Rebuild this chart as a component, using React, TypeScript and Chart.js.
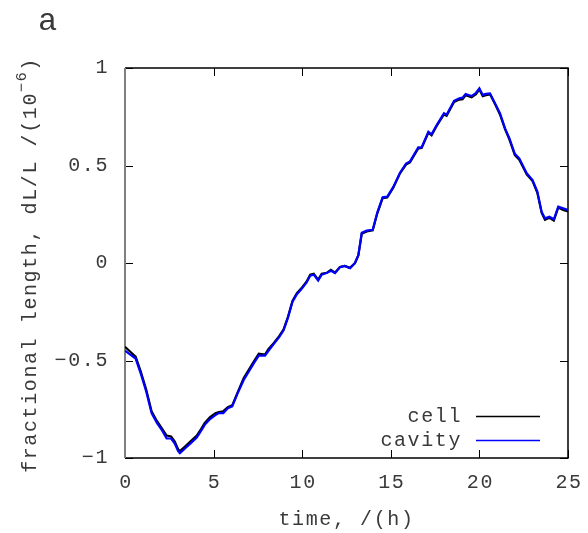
import React, { useEffect, useRef } from "react";
import { Chart, registerables } from "chart.js";

Chart.register(...registerables);

const times = [0.0, 0.3, 0.6, 0.9, 1.2, 1.5, 1.8, 2.1, 2.35, 2.6, 2.8, 3.0, 3.1, 3.4, 3.7, 4.05, 4.3, 4.5, 4.8, 5.1, 5.3, 5.55, 5.8, 6.05, 6.35, 6.7, 7.0, 7.3, 7.55, 7.9, 8.1, 8.4, 8.7, 8.95, 9.2, 9.45, 9.7, 9.95, 10.25, 10.45, 10.65, 10.9, 11.1, 11.4, 11.62, 11.85, 12.13, 12.4, 12.7, 12.98, 13.17, 13.36, 13.64, 13.98, 14.24, 14.54, 14.8, 15.14, 15.52, 15.86, 16.08, 16.55, 16.74, 17.12, 17.3, 17.59, 18.0, 18.15, 18.57, 18.87, 19.05, 19.22, 19.56, 19.81, 20.0, 20.19, 20.37, 20.6, 20.88, 21.16, 21.45, 21.69, 22.0, 22.25, 22.67, 23.0, 23.27, 23.51, 23.7, 23.95, 24.2, 24.45, 24.73, 25.0];

const cavity = [-0.45, -0.47, -0.49, -0.57, -0.66, -0.77, -0.82, -0.86, -0.9, -0.9, -0.925, -0.965, -0.975, -0.95, -0.925, -0.895, -0.86, -0.83, -0.8, -0.78, -0.77, -0.77, -0.745, -0.735, -0.67, -0.6, -0.555, -0.51, -0.475, -0.475, -0.45, -0.415, -0.38, -0.345, -0.28, -0.2, -0.16, -0.135, -0.1, -0.065, -0.06, -0.09, -0.06, -0.05, -0.04, -0.052, -0.022, -0.015, -0.027, 0.0, 0.04, 0.155, 0.166, 0.17, 0.26, 0.337, 0.34, 0.39, 0.463, 0.51, 0.52, 0.593, 0.593, 0.673, 0.66, 0.708, 0.768, 0.76, 0.832, 0.845, 0.848, 0.867, 0.856, 0.873, 0.896, 0.862, 0.867, 0.87, 0.819, 0.768, 0.69, 0.64, 0.56, 0.537, 0.46, 0.425, 0.366, 0.263, 0.229, 0.237, 0.224, 0.289, 0.28, 0.272];

const cell = [-0.43, -0.455, -0.48, -0.56, -0.65, -0.76, -0.81, -0.85, -0.885, -0.89, -0.915, -0.955, -0.965, -0.94, -0.915, -0.885, -0.85, -0.82, -0.79, -0.77, -0.765, -0.76, -0.74, -0.73, -0.665, -0.59, -0.545, -0.5, -0.465, -0.47, -0.44, -0.41, -0.375, -0.34, -0.275, -0.195, -0.155, -0.13, -0.095, -0.06, -0.055, -0.085, -0.055, -0.05, -0.035, -0.05, -0.02, -0.015, -0.025, 0.0, 0.04, 0.15, 0.162, 0.168, 0.255, 0.333, 0.336, 0.386, 0.46, 0.505, 0.516, 0.588, 0.59, 0.668, 0.655, 0.703, 0.762, 0.755, 0.826, 0.838, 0.84, 0.86, 0.85, 0.866, 0.89, 0.855, 0.86, 0.865, 0.815, 0.762, 0.685, 0.634, 0.553, 0.53, 0.455, 0.42, 0.36, 0.258, 0.222, 0.232, 0.218, 0.284, 0.272, 0.265];

const xTicks = [0, 5, 10, 15, 20, 25];
const yTicks = [-1, -0.5, 0, 0.5, 1];
const seriesNames = ["cell", "cavity"];
const seriesColors = ["#000000", "#0000ff"];
const xTitle = "time, /(h)";
const yTitleMain = "fractional length, dL/L /(10";
const yTitleSup = "\u22126";
const yTitleEnd = ")";
const panelLabel = "a";

const FONT = "'Liberation Mono', 'DejaVu Sans Mono', monospace";
const TXT = "#3a3a3a";
const SPACING = "1.6px";

const fmt = (v: number) => (v < 0 ? "\u2212" + String(Math.abs(v)) : String(v));

export default function App() {
  const ref = useRef<HTMLCanvasElement | null>(null);

  useEffect(() => {
    if (!ref.current) return;
    const decor = {
      id: "decor",
      beforeDatasetsDraw(chart: any) {
        const { ctx, chartArea: a, scales } = chart;
        ctx.save();
        ctx.strokeStyle = "#000";
        ctx.lineWidth = 1;
        yTicks.forEach((v) => {
          const y = Math.round(scales.y.getPixelForValue(v)) + 0.5;
          ctx.beginPath();
          ctx.moveTo(a.left, y);
          ctx.lineTo(a.left + 8, y);
          ctx.moveTo(a.right, y);
          ctx.lineTo(a.right - 8, y);
          ctx.stroke();
        });
        xTicks.forEach((v) => {
          const x = Math.round(scales.x.getPixelForValue(v)) + 0.5;
          ctx.beginPath();
          ctx.moveTo(x, a.bottom);
          ctx.lineTo(x, a.bottom - 8);
          ctx.moveTo(x, a.top);
          ctx.lineTo(x, a.top + 8);
          ctx.stroke();
        });
        ctx.lineWidth = 1.5;
        ctx.strokeStyle = "#000";
        ctx.beginPath();
        ctx.moveTo(a.left, a.top);
        ctx.lineTo(a.right, a.top);
        ctx.lineTo(a.right, a.bottom);
        ctx.lineTo(a.left, a.bottom);
        ctx.stroke();
        ctx.strokeStyle = "#808080";
        ctx.lineWidth = 2;
        ctx.beginPath();
        ctx.moveTo(a.left, a.top);
        ctx.lineTo(a.left, a.bottom);
        ctx.stroke();
        ctx.restore();
      },
      afterDraw(chart: any) {
        const { ctx, chartArea: a, scales } = chart;
        ctx.save();
        ctx.fillStyle = TXT;
        (ctx as any).letterSpacing = SPACING;
        // tick labels
        ctx.font = `20px ${FONT}`;
        ctx.textBaseline = "middle";
        ctx.textAlign = "right";
        yTicks.forEach((v) => {
          ctx.fillText(fmt(v), a.left - 16, scales.y.getPixelForValue(v));
        });
        ctx.textAlign = "center";
        xTicks.forEach((v) => {
          ctx.fillText(fmt(v), scales.x.getPixelForValue(v) + 1, a.bottom + 25);
        });
        // x title
        ctx.fillText(xTitle, (a.left + a.right) / 2, 520);
        // panel label
        (ctx as any).letterSpacing = "0px";
        ctx.font = `32px ${FONT}`;
        ctx.textAlign = "left";
        ctx.textBaseline = "alphabetic";
        ctx.fillText(panelLabel, 38, 30);
        // y title
        (ctx as any).letterSpacing = SPACING;
        ctx.translate(31, (a.top + a.bottom) / 2 + 2);
        ctx.rotate(-Math.PI / 2);
        ctx.font = `20px ${FONT}`;
        const w1 = ctx.measureText(yTitleMain).width;
        const w3 = ctx.measureText(yTitleEnd).width;
        ctx.font = `15px ${FONT}`;
        const w2 = ctx.measureText(yTitleSup).width;
        const W = w1 + w2 + w3;
        let x = -W / 2;
        ctx.textAlign = "left";
        ctx.textBaseline = "middle";
        ctx.font = `20px ${FONT}`;
        ctx.fillText(yTitleMain, x, 0);
        x += w1;
        ctx.font = `15px ${FONT}`;
        ctx.fillText(yTitleSup, x, -9);
        x += w2;
        ctx.font = `20px ${FONT}`;
        ctx.fillText(yTitleEnd, x, 0);
        ctx.restore();
        // legend
        ctx.save();
        (ctx as any).letterSpacing = SPACING;
        ctx.font = `20px ${FONT}`;
        ctx.textAlign = "right";
        ctx.textBaseline = "middle";
        const rows = [417, 441];
        seriesNames.forEach((name, i) => {
          ctx.fillStyle = TXT;
          ctx.fillText(name, 462, rows[i]);
          ctx.strokeStyle = seriesColors[i];
          ctx.lineWidth = 1.5;
          ctx.beginPath();
          ctx.moveTo(476, rows[i] - 0.5);
          ctx.lineTo(540, rows[i] - 0.5);
          ctx.stroke();
        });
        ctx.restore();
      },
    };

    const chart = new Chart(ref.current, {
      type: "line",
      data: {
        datasets: [
          {
            label: seriesNames[0],
            data: times.map((t, i) => ({ x: t, y: cell[i] })),
            borderColor: seriesColors[0],
            borderWidth: 2.2,
            pointRadius: 0,
            tension: 0,
            order: 2,
          },
          {
            label: seriesNames[1],
            data: times.map((t, i) => ({ x: t, y: cavity[i] })),
            borderColor: seriesColors[1],
            borderWidth: 2.2,
            pointRadius: 0,
            tension: 0,
            order: 1,
          },
        ],
      },
      options: {
        animation: false,
        responsive: false,
        maintainAspectRatio: false,
        layout: { padding: { left: 0, right: 20, top: 68, bottom: 0 } },
        plugins: { legend: { display: false }, tooltip: { enabled: false }, title: { display: false } },
        scales: {
          x: {
            type: "linear",
            min: 0,
            max: 25,
            grid: { display: false, drawTicks: false },
            border: { display: false },
            ticks: { display: false, stepSize: 5 },
            afterFit: (s: any) => {
              s.height = 75;
            },
          },
          y: {
            type: "linear",
            min: -1,
            max: 1,
            grid: { display: false, drawTicks: false },
            border: { display: false },
            ticks: { display: false, stepSize: 0.5 },
            afterFit: (s: any) => {
              s.width = 125;
            },
          },
        },
      },
      plugins: [decor],
    });
    return () => chart.destroy();
  }, []);

  return (
    <div style={{ position: "fixed", left: 0, top: 0, width: 588, height: 533, background: "#fff" }}>
      <canvas ref={ref} width={588} height={533} style={{ width: 588, height: 533 }} />
    </div>
  );
}
